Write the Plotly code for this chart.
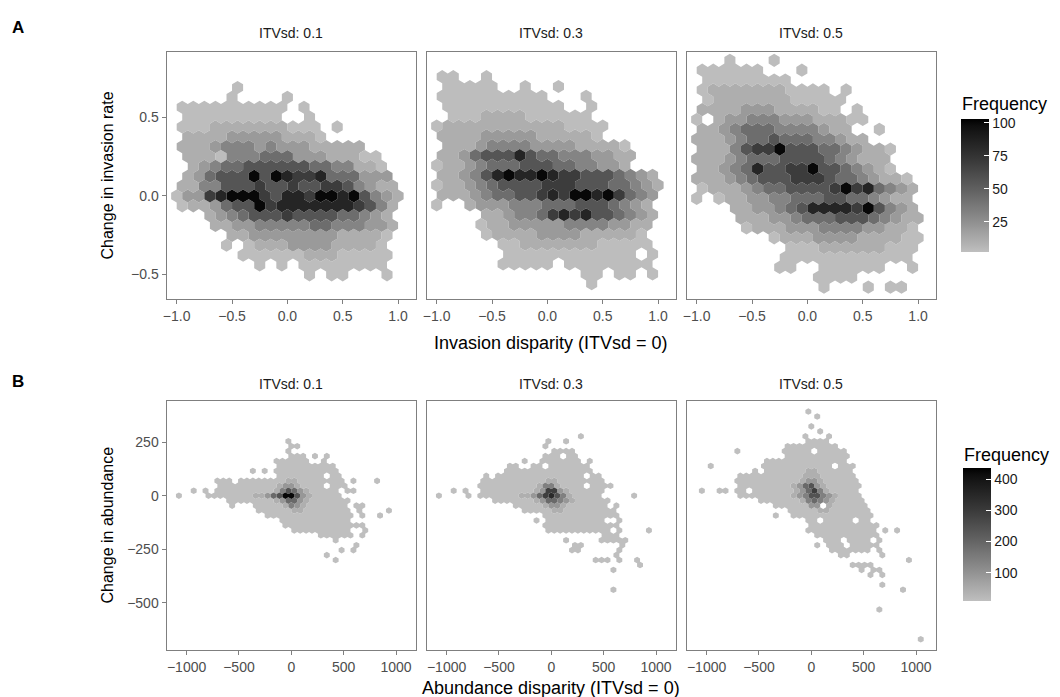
import plotly.graph_objects as go

W, H = 1060, 697

# ------------------------------------------------------------------ data
# Hexbin counts, coded as shade levels 1..9 ('.' = empty bin).
# Each panel: list of hex rows from the top; row entries are (first column index, codes).
LEVEL_FREQ_A = [3, 10, 20, 31, 43, 56, 70, 84, 100]
LEVEL_FREQ_B = [5, 40, 90, 140, 190, 240, 290, 340, 425]

A1_ROWS = [
    ".....1",
    ".....1....1",
    "1111111111.1",
    ".111111111..1",
    "1112222222111.1",
    ".2222333332221",
    "22234443433322222",
    ".222144455533322211",
    ".234556666665544221",
    ".2356669698778555333",
    "22446667667667764322",
    "133789997688799896432",
    "12235669788888887642",
    "...23456667666655432",
    "...22334444455444332",
    ".....223333333322221",
    "....1.1222333322221",
    "......11111122211111",
    ".......1.1.11111111",
    "............1.11...1",
]
A2_ROWS = [
    "11..1",
    ".11111..1..1",
    "1111111111...1",
    ".11111111111..1",
    ".1112222111111",
    "1222222222221111",
    "222233333222221",
    ".22234444333322221",
    "223566686554443322",
    "122345556665544332",
    "22346898898776665432",
    "122345666677766655432",
    "22234556678799897543",
    "1..23334445556665432",
    "....2234457878665432",
    "....1223333344443322",
    "....122223333222221",
    "......11222222211111",
    "......111111111111.1",
    "......11111.11111111",
    ".............11.11.1",
    "..............1",
]
A3_ROWS = [
    "...1...1",
    "111111...1",
    ".11111111",
    "122222221111.1",
    ".1222222211111",
    "2222333222211.1",
    "1.23344433322211",
    "22345554444322..1",
    "2223455655544322",
    "222467796665543221",
    "222345556666543222",
    "223458667796654321",
    "22234566677765543221",
    "12223455666679785432",
    "1.122334455566554322",
    "...22334568888796432",
    "....22233455566654322",
    "....1222333444433221",
    ".......12223333222211",
    "........111222222111",
    "........111111111111",
    ".......11..111111..1",
    "...........1111",
    "...........1...1.11",
]

B1_ROWS = [
    (-1, "1"), (0, "11"), (-1, "1"), (0, "111.1.1"), (-3, "111111..1"),
    (-2, "1111111111"), (-7, "1.1.11111111111"), (-2, "11111111.11"),
    (-13, "111.111111112211111111.1...1"),
    (-12, "111111111123321111.111"),
    (-17, "1.1.111111111124653211111.11"),
    (-19, "1....11111111223569963211111"),
    (-11, "111111112355321111111"),
    (-10, "1...1111124321111111.11"),
    (-6, "1111112211111111.1....1"),
    (-4, "111111111111111.1..1"),
    (-2, "111111111111"), (-1, "11111111111111"), (0, "1111111111..1"),
    (5, "111111.1"), (7, "1"), (11, "1"), (8, "1.1"), (6, "1"), (7, "1"),
]
B2_ROWS = [
    (5, "1"), (-1, "1..1"), (-1, "1"), (0, "1111"), (-1, "111.11"),
    (-5, "1..1111111.1"), (-7, "11..11.1111111"), (-8, "111111111111111"),
    (-11, "1.111111111111111.11"),
    (-12, "111111111112211111111"),
    (-12, "111111111124421111.1111"),
    (-17, "1.1..111111111237732111111"),
    (-19, "1....1.111111122357864211111.....1"),
    (-10, "11111112355432111111"),
    (-6, "1111123321111111.1"),
    (-5, "1111122111111111"),
    (-1, "1111111111111"), (-3, "1.1111111111..1"), (-1, "1111111111111"),
    (-1, "11111111111.1....1"), (9, "111"), (2, "1.....11111"),
    (4, "11......1"), (3, "11......1"), (11, "1"), (7, "111.1..1"),
    (15, "1"), (10, "1"), (0, ""), (0, ""), (0, ""), (10, "1"),
]
B3_ROWS = [
    (-1, "1"), (1, "1"), (0, ""), (0, "1"), (1, "1"), (-1, "1...1"),
    (-1, "1111"), (-4, "111111111"), (-13, "1.......11111.11111"),
    (-4, "11111111111"), (-8, "11111111111111"),
    (-17, "1........111111111111.111"),
    (-10, "1.111111122111111"),
    (-12, "11111111111222111111"),
    (-13, "111111111112332111111"),
    (-12, "111111111235632111111"),
    (-19, "1..11.11.111111123574211111"),
    (-12, "111111111234664321111"),
    (-9, "111111124543211111"),
    (-6, "11111133.2111111"),
    (-4, "11111221111111"),
    (-6, "1..11111111111111"),
    (-1, "11.11111.11"), (0, "111111111111"), (-1, "111111111111.1.1"),
    (1, "11111111111"), (2, "111.1111.1"), (1, "1.111.11111"),
    (3, "1111111.1"), (5, "11.....1"), (16, "1"), (7, "1111"), (8, "1.11"),
    (10, "1.1"), (0, ""), (12, "1"), (15, "1"), (0, ""), (0, ""), (0, ""),
    (11, "1"), (0, ""), (0, ""), (0, ""), (0, ""), (0, ""), (18, "1"),
]

STRIP_LABELS = ["ITVsd: 0.1", "ITVsd: 0.3", "ITVsd: 0.5"]
A_XTICKS = [-1.0, -0.5, 0.0, 0.5, 1.0]
A_YTICKS = [-0.5, 0.0, 0.5]
B_XTICKS = [-1000, -500, 0, 500, 1000]
B_YTICKS = [-500, -250, 0, 250]
A_CBAR_TICKS = [25, 50, 75, 100]
B_CBAR_TICKS = [100, 200, 300, 400]

# ------------------------------------------------------------------ style / layout
FONT = "Liberation Sans, Arial, Helvetica, sans-serif"
PANEL_LEFT = [166.5, 426.5, 686.5]
PANEL_W = 249.3
ROW_TOP = [51.7, 401.0]
ROW_BOT = [299.3, 650.0]
A_XRANGE, A_YRANGE = [-1.092, 1.160], [-0.658, 0.919]
B_XRANGE, B_YRANGE = [-1192, 1189], [-720, 442]
A_CLIM, B_CLIM = (2, 103), (8, 435)
TICK_SIZE = 14
STRIP_SIZE = 14
XTITLE_SIZE = 18
YTITLE_SIZE = 16
LEG_TITLE_SIZE = 18
LEG_TICK_SIZE = 14
CBAR_LEN, CBAR_THICK = 133.4, 28
CBAR_POS = {"A": (961.0, 119.0), "B": (963.0, 468.3)}  # left, top (px)

# hex lattice per panel: (rows, y of top row, row step, x of col 0 on top-type rows, on other rows, col step)
A_DX, A_DY = 0.1, 0.0628
B_DX, B_DY = 56.5, 23.1
PANELS = [
    (A1_ROWS, 0.691, A_DY, -0.95, -1.0, A_DX, "A"),
    (A2_ROWS, 0.760, A_DY, -0.95, -1.0, A_DX, "A"),
    (A3_ROWS, 0.864, A_DY, -1.0, -0.95, A_DX, "A"),
    (B1_ROWS, 11 * B_DY, B_DY, 0.5 * B_DX, 0.0, B_DX, "B"),
    (B2_ROWS, 12 * B_DY, B_DY, 0.0, 0.5 * B_DX, B_DX, "B"),
    (B3_ROWS, 17 * B_DY, B_DY, 0.5 * B_DX, 0.0, B_DX, "B"),
]


def lin(c):
    return ((c + 0.055) / 1.055) ** 2.4 if c > 0.04045 else c / 12.92


L_LOW = 116 * lin(191 / 255) ** (1 / 3) - 16


def gray(t):
    t = min(max(t, 0.0), 1.0)
    L = L_LOW * (1 - t)
    Y = ((L + 16) / 116) ** 3 if L > 8 else L / 903.3
    c = 1.055 * Y ** (1 / 2.4) - 0.055 if Y > 0.0031308 else 12.92 * Y
    v = int(round(max(0, min(1, c)) * 255))
    return f"rgb({v},{v},{v})"


COLORSCALE = [[i / 20, gray(i / 20)] for i in range(21)]

fig = go.Figure()


def px2x(p):
    return p / W


def px2y(p):
    return 1 - p / H


for idx, (rows, ytop, dy, xa, xb, dx, grp) in enumerate(PANELS):
    axn = "" if idx == 0 else str(idx + 1)
    levels = LEVEL_FREQ_A if grp == "A" else LEVEL_FREQ_B
    clim = A_CLIM if grp == "A" else B_CLIM
    polys = {}
    cx_all, cy_all, f_all = [], [], []
    for n, row in enumerate(rows):
        k0, codes = (0, row) if isinstance(row, str) else row
        cy = ytop - n * dy
        base = xa if n % 2 == 0 else xb
        for j, ch in enumerate(codes):
            if ch == ".":
                continue
            cx = base + (k0 + j) * dx
            lv = int(ch)
            hx = [cx + dx / 2, cx, cx - dx / 2, cx - dx / 2, cx, cx + dx / 2, cx + dx / 2, None]
            hy = [cy + dy / 3, cy + 2 * dy / 3, cy + dy / 3, cy - dy / 3, cy - 2 * dy / 3, cy - dy / 3, cy + dy / 3, None]
            px, py = polys.setdefault(lv, ([], []))
            px.extend(hx)
            py.extend(hy)
            cx_all.append(cx)
            cy_all.append(cy)
            f_all.append(levels[lv - 1])
    for lv in sorted(polys):
        px, py = polys[lv]
        col = gray((levels[lv - 1] - clim[0]) / (clim[1] - clim[0]))
        fig.add_trace(go.Scatter(
            x=px, y=py, mode="lines", fill="toself", fillcolor=col,
            line=dict(width=0, color=col), hoverinfo="skip", showlegend=False,
            xaxis="x" + axn, yaxis="y" + axn))
    # colour-bar carrier (one per row of panels)
    if idx in (0, 3):
        left, top = CBAR_POS[grp]
        fig.add_trace(go.Scatter(
            x=cx_all, y=cy_all, mode="markers", hoverinfo="skip", showlegend=False,
            xaxis="x" + axn, yaxis="y" + axn,
            marker=dict(size=0, opacity=0, color=f_all, colorscale=COLORSCALE,
                        cmin=clim[0], cmax=clim[1], showscale=True,
                        colorbar=dict(
                            x=px2x(left), xanchor="left", xpad=0,
                            y=px2y(top), yanchor="top", ypad=0,
                            len=CBAR_LEN, lenmode="pixels",
                            thickness=CBAR_THICK, thicknessmode="pixels",
                            outlinewidth=0, ticks="inside", ticklen=5,
                            tickwidth=1, tickcolor="white",
                            tickvals=A_CBAR_TICKS if grp == "A" else B_CBAR_TICKS,
                            tickfont=dict(family=FONT, size=LEG_TICK_SIZE, color="#1A1A1A"),
                        ))))

layout = dict(
    width=W, height=H, paper_bgcolor="white", plot_bgcolor="white",
    margin=dict(l=0, r=0, t=0, b=0, autoexpand=False),
    showlegend=False,
)
for idx in range(6):
    rowi, coli = divmod(idx, 3)
    axn = "" if idx == 0 else str(idx + 1)
    grp = "A" if rowi == 0 else "B"
    x0 = PANEL_LEFT[coli]
    common = dict(showgrid=False, zeroline=False, showline=True, mirror=True,
                  linecolor="#7F7F7F", linewidth=1, ticks="outside", ticklen=4,
                  tickwidth=1, tickcolor="#7F7F7F",
                  tickfont=dict(family=FONT, size=TICK_SIZE, color="#4D4D4D"))
    xa = dict(common, domain=[px2x(x0), px2x(x0 + PANEL_W)],
              range=A_XRANGE if grp == "A" else B_XRANGE,
              tickvals=A_XTICKS if grp == "A" else B_XTICKS,
              tickformat=".1f" if grp == "A" else "d",
              anchor="y" + axn)
    ya = dict(common, domain=[px2y(ROW_BOT[rowi]), px2y(ROW_TOP[rowi])],
              range=A_YRANGE if grp == "A" else B_YRANGE,
              tickvals=A_YTICKS if grp == "A" else B_YTICKS,
              tickformat=".1f" if grp == "A" else "d",
              anchor="x" + axn)
    if coli > 0:
        ya.update(showticklabels=False, ticks="")
    layout["xaxis" + axn] = xa
    layout["yaxis" + axn] = ya

# white tick marks on the left edge of each colour bar (ggplot draws both edges)
shapes = []
for grp, ticks, clim in (("A", A_CBAR_TICKS, A_CLIM), ("B", B_CBAR_TICKS, B_CLIM)):
    left, top = CBAR_POS[grp]
    for v in ticks:
        ypx = top + (clim[1] - v) / (clim[1] - clim[0]) * CBAR_LEN
        shapes.append(dict(type="line", xref="paper", yref="paper",
                           x0=px2x(left), x1=px2x(left + 5), y0=px2y(ypx), y1=px2y(ypx),
                           line=dict(color="white", width=1)))
layout["shapes"] = shapes

annotations = []


def text(s, x, y, size, color="black", angle=0, xanchor="center", bold=False):
    annotations.append(dict(
        text=f"<b>{s}</b>" if bold else s, x=px2x(x), y=px2y(y), xref="paper", yref="paper",
        showarrow=False, xanchor=xanchor, yanchor="middle", textangle=angle,
        font=dict(family=FONT, size=size, color=color)))


for coli in range(3):
    cxp = PANEL_LEFT[coli] + PANEL_W / 2
    text(STRIP_LABELS[coli], cxp, 33, STRIP_SIZE, "#1A1A1A")
    text(STRIP_LABELS[coli], cxp, 384, STRIP_SIZE, "#1A1A1A")
mid = PANEL_LEFT[0] + (PANEL_LEFT[2] + PANEL_W - PANEL_LEFT[0]) / 2
text("Invasion disparity (ITVsd = 0)", mid, 343, XTITLE_SIZE)
text("Abundance disparity (ITVsd = 0)", mid, 688, XTITLE_SIZE)
text("Change in invasion rate", 107, (ROW_TOP[0] + ROW_BOT[0]) / 2, YTITLE_SIZE, angle=-90)
text("Change in abundance", 107, (ROW_TOP[1] + ROW_BOT[1]) / 2, YTITLE_SIZE, angle=-90)
text("A", 18, 28, 17, bold=True)
text("B", 18, 381, 17, bold=True)
text("Frequency", 960, 104, LEG_TITLE_SIZE, xanchor="left")
text("Frequency", 962, 455, LEG_TITLE_SIZE, xanchor="left")
layout["annotations"] = annotations

fig.update_layout(**layout)
fig.write_html("out.html")
